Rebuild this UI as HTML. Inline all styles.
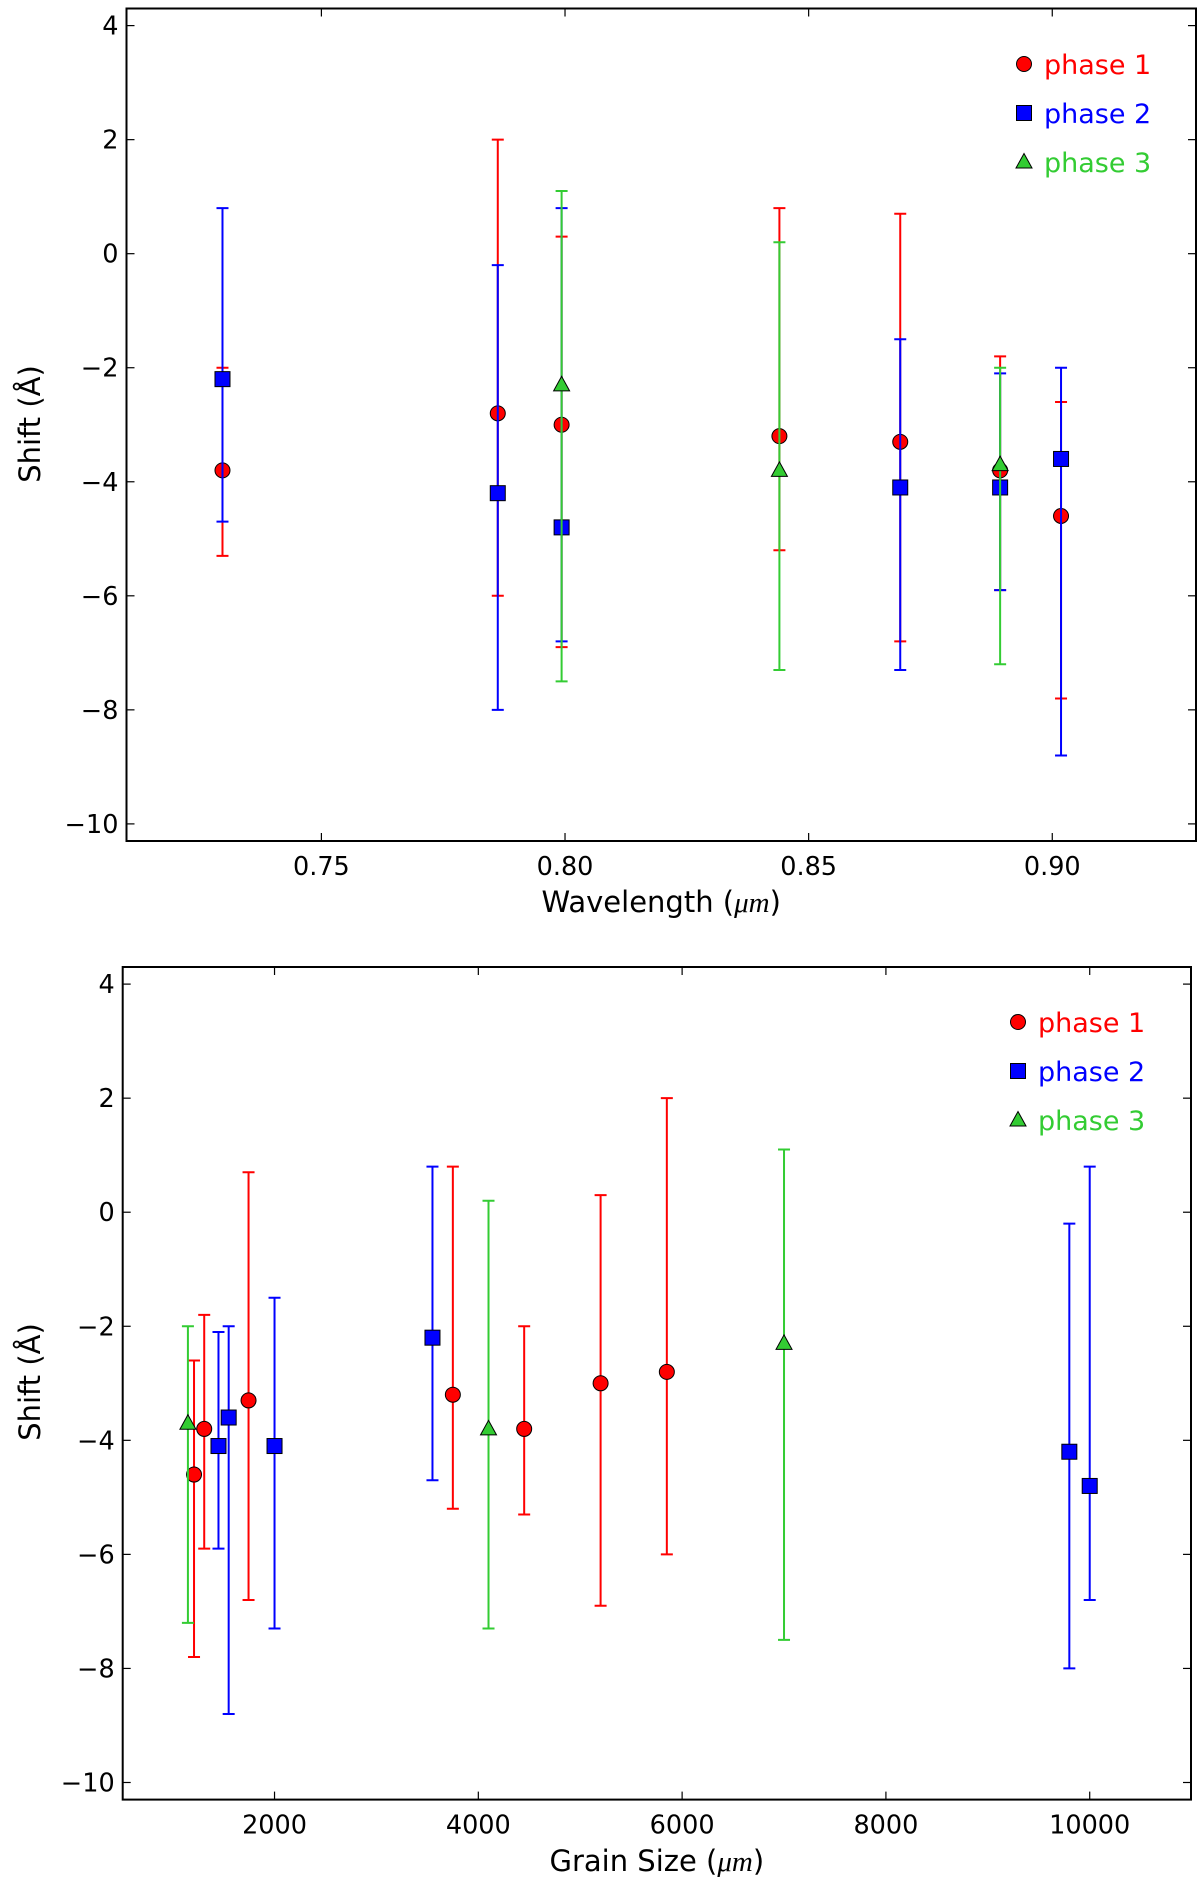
<!DOCTYPE html>
<html><head><meta charset="utf-8"><style>
html,body{margin:0;padding:0;background:#fff}
svg{display:block;font-family:"DejaVu Sans","Liberation Sans",sans-serif}
</style></head><body>
<svg id="chart" width="1200" height="1883" viewBox="0 0 1200 1883" xmlns="http://www.w3.org/2000/svg"></svg>
<script>
const seriesNames = ["phase 1","phase 2","phase 3"];
const seriesColors = ["#ff0000","#0000ff","#33cc33"];
const markerShapes = ["circle","square","triangle"];
const p1Wavelength = [0.7297,0.7862,0.7993,0.844,0.8688,0.8893,0.9018];
const p1Grain = [4450,5850,5200,3750,1745,1310,1210];
const p1Shift = [-3.8,-2.8,-3.0,-3.2,-3.3,-3.8,-4.6];
const p1Low = [-5.3,-6.0,-6.9,-5.2,-6.8,-5.9,-7.8];
const p1High = [-2.0,2.0,0.3,0.8,0.7,-1.8,-2.6];
const p2Wavelength = [0.7297,0.7862,0.7993,0.8688,0.8893,0.9018];
const p2Grain = [3550,9800,10000,2000,1450,1550];
const p2Shift = [-2.2,-4.2,-4.8,-4.1,-4.1,-3.6];
const p2Low = [-4.7,-8.0,-6.8,-7.3,-5.9,-8.8];
const p2High = [0.8,-0.2,0.8,-1.5,-2.1,-2.0];
const p3Wavelength = [0.7993,0.844,0.8893];
const p3Grain = [7000,4100,1150];
const p3Shift = [-2.3,-3.8,-3.7];
const p3Low = [-7.5,-7.3,-7.2];
const p3High = [1.1,0.2,-2.0];
const yTicks = [4,2,0,-2,-4,-6,-8,-10];
const xTicksTop = [0.75,0.80,0.85,0.90];
const xTicksBottom = [2000,4000,6000,8000,10000];

const svg = document.getElementById('chart');
const NS = 'http://www.w3.org/2000/svg';
function mk(tag, attrs, parent){const e=document.createElementNS(NS,tag);for(const k in attrs)e.setAttribute(k,attrs[k]);(parent||svg).appendChild(e);return e;}

function panel(cfg){
  const g = mk('g',{});
  
  
  const sx = v => cfg.L + (v - cfg.xmin)/(cfg.xmax-cfg.xmin)*(cfg.R-cfg.L);
  const sy = v => cfg.T + (cfg.ymax - v)/(cfg.ymax-cfg.ymin)*(cfg.B-cfg.T);
  yTicks.forEach(t=>{
    const y=sy(t);
    const l1=mk('line',{x1:cfg.L,y1:y,x2:cfg.L+8,y2:y,stroke:'#000','stroke-width':1.2},g);
    
    
    mk('line',{x1:cfg.R,y1:y,x2:cfg.R-8,y2:y,stroke:'#000','stroke-width':1.2},g);
    const tx=mk('text',{x:cfg.L-8,y:y+9,'text-anchor':'end','font-size':25.5,fill:'#000'},g);
    tx.textContent=String(t).replace('-','\u2212');
    
    
  });
  cfg.xticks.forEach(t=>{
    const x=sx(t);
    const l1=mk('line',{x1:x,y1:cfg.B,x2:x,y2:cfg.B-8,stroke:'#000','stroke-width':1.2},g);
    
    
    mk('line',{x1:x,y1:cfg.T,x2:x,y2:cfg.T+8,stroke:'#000','stroke-width':1.2},g);
    const tx=mk('text',{x:x,y:cfg.B+34,'text-anchor':'middle','font-size':25.5,fill:'#000'},g);
    tx.textContent=cfg.fmt(t);
    
    
  });
  cfg.series.forEach((s,si)=>{
    const sg=mk('g',{},g);
    
    
    const c=seriesColors[si];
    s.x.forEach((xv,i)=>{
      const x=sx(xv), yl=sy(s.lo[i]), yh=sy(s.hi[i]);
      const eb=mk('path',{d:`M${x},${yl}V${yh}M${x-6},${yl}H${x+6}M${x-6},${yh}H${x+6}`,stroke:c,'stroke-width':2,fill:'none'},sg);
      
      
    });
    s.x.forEach((xv,i)=>{
      const m=marker(markerShapes[si],sx(xv),sy(s.y[i]),c,sg);
      
      
    });
  });
  const fr=mk('rect',{x:cfg.L,y:cfg.T,width:cfg.R-cfg.L,height:cfg.B-cfg.T,fill:'none',stroke:'#000','stroke-width':2},g);
  
  
  const xl=mk('text',{x:(cfg.L+cfg.R)/2,y:cfg.xlY,'text-anchor':'middle','font-size':29,fill:'#000'},g);
  xl.innerHTML=cfg.xlabel+' (<tspan font-family="Liberation Serif,serif" font-style="italic">μm</tspan>)';
  
  
  const yl=mk('text',{x:0,y:0,'text-anchor':'middle','font-size':29,fill:'#000',transform:`translate(40,${cfg.ylY}) rotate(-90)`},g);
  yl.textContent='Shift (Å)';
  
  
  const lg=mk('g',{},g);
  
  
  seriesNames.forEach((n,i)=>{
    const y=cfg.legY+i*49;
    const e=mk('g',{},lg);
    
    
    marker(markerShapes[i],cfg.legX,y,seriesColors[i],e);
    const t=mk('text',{x:cfg.legX+20,y:y+10,'font-size':27,fill:seriesColors[i]},e);
    t.textContent=n;
  });
}
function marker(shape,x,y,c,parent){
  if(shape==='circle') return mk('circle',{cx:x,cy:y,r:7.5,fill:c,stroke:'#000','stroke-width':1},parent);
  if(shape==='square') return mk('rect',{x:x-7.5,y:y-7.5,width:15,height:15,fill:c,stroke:'#000','stroke-width':1},parent);
  return mk('path',{d:`M${x},${y-8.5}L${x+8},${y+6}L${x-8},${y+6}Z`,fill:c,stroke:'#000','stroke-width':1},parent);
}
panel({name:'wavelength-panel',L:126.5,R:1196,T:8.5,B:841,xmin:0.71,xmax:0.9295,ymin:-10.3,ymax:4.3,
  xticks:xTicksTop,fmt:t=>t.toFixed(2),xlabel:'Wavelength',xlY:912,ylY:424,legX:1024,legY:64,
  series:[{x:p1Wavelength,y:p1Shift,lo:p1Low,hi:p1High},{x:p2Wavelength,y:p2Shift,lo:p2Low,hi:p2High},{x:p3Wavelength,y:p3Shift,lo:p3Low,hi:p3High}]});
panel({name:'grain-size-panel',L:122.7,R:1191,T:967,B:1799.6,xmin:510,xmax:10994,ymin:-10.3,ymax:4.3,
  xticks:xTicksBottom,fmt:t=>String(t),xlabel:'Grain Size',xlY:1871,ylY:1382,legX:1018,legY:1022,
  series:[{x:p1Grain,y:p1Shift,lo:p1Low,hi:p1High},{x:p2Grain,y:p2Shift,lo:p2Low,hi:p2High},{x:p3Grain,y:p3Shift,lo:p3Low,hi:p3High}]});
</script>
</body></html>
